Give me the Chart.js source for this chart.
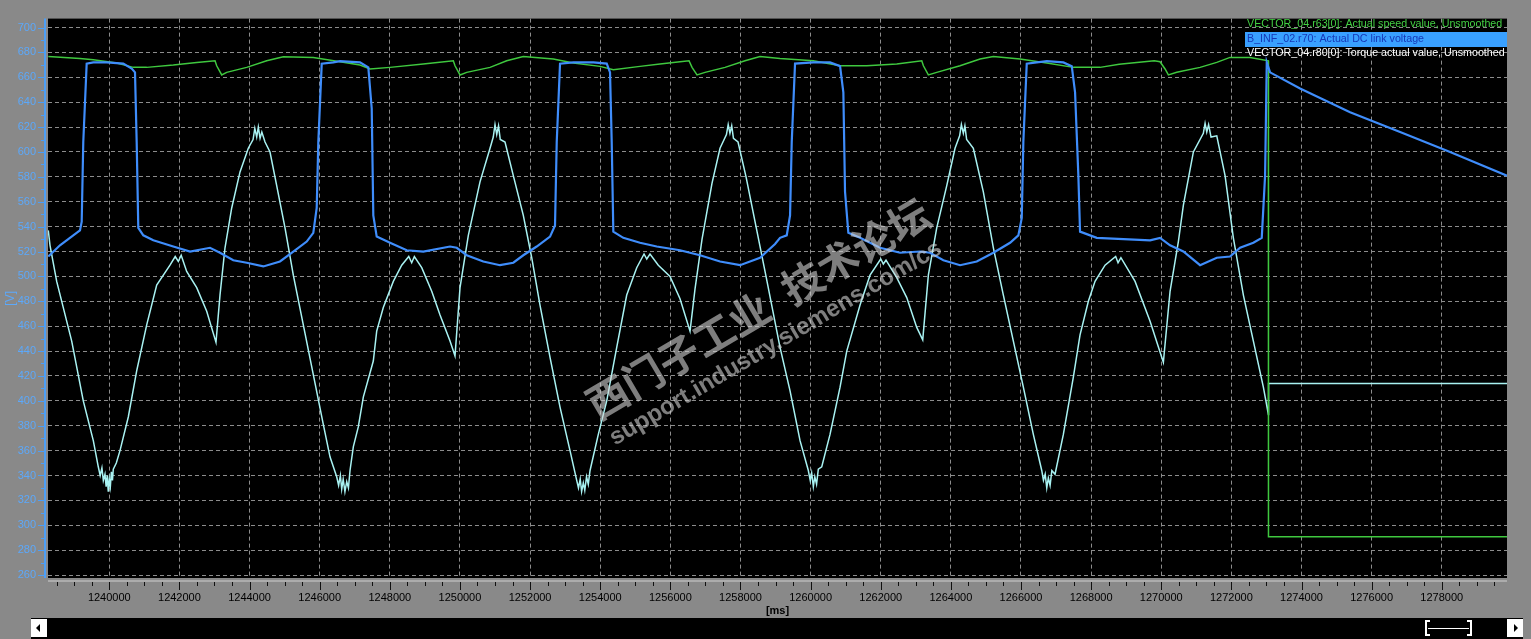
<!DOCTYPE html>
<html>
<head>
<meta charset="utf-8">
<script src="https://cdn.jsdelivr.net/npm/chart.js@4.4.1/dist/chart.umd.min.js"></script>
<style>
  html, body { margin: 0; padding: 0; background: #898989; }
  #wrap { width: 1531px; height: 639px; }
</style>
</head>
<body>
<div id="wrap"><canvas id="traceChart" width="1531" height="639"></canvas></div>
<script>
// trace values (time in ms, value in V)
const seriesLabels = [
  "VECTOR_04.r63[0]: Actual speed value, Unsmoothed",
  "B_INF_02.r70: Actual DC link voltage",
  "VECTOR_04.r80[0]: Torque actual value, Unsmoothed"
];

const speedT = [1238260, 1239164, 1239544, 1240211, 1240684, 1241067, 1241825, 1242493, 1243015, 1243063,
  1243206, 1243348, 1243919, 1244489, 1244962, 1245818, 1246580, 1247150, 1247435, 1248006,
  1248955, 1249811, 1249859, 1250002, 1250193, 1250858, 1251334, 1251807, 1252663, 1253233,
  1253995, 1254374, 1255135, 1255706, 1256276, 1256533, 1256619, 1256761, 1256989, 1257560,
  1258130, 1258558, 1259128, 1260078, 1260840, 1261601, 1262457, 1263170, 1263217, 1263358,
  1263597, 1264262, 1264832, 1265212, 1265973, 1266735, 1267493, 1268255, 1268800, 1269800,
  1269966, 1270109, 1270203, 1270442, 1271107, 1271583, 1271962, 1272533, 1273055, 1273058,
  1279860];
const speedV = [676.8, 675.2, 674.1, 671.5, 668, 668, 669.9, 672, 673.3, 669.3,
  661.9, 664, 668, 673.3, 676.5, 676, 672.5, 669.9, 666.7, 668,
  670.7, 673.3, 669.3, 661.9, 664, 668, 673.3, 676.8, 674.7, 671.5,
  668.8, 666.1, 668.8, 670.7, 672.5, 673.3, 668, 661.9, 664, 668,
  673.3, 676.8, 675.2, 673.3, 669.3, 669.3, 670.7, 673.3, 669.3, 661.9,
  664, 669.3, 674.7, 676.8, 674.7, 671.5, 668, 668, 670.5, 673.3,
  672.5, 666.7, 661.9, 664, 668, 672, 676, 676, 673.3, 290.7,
  290.7];

const dcT = [1238260, 1238594, 1238973, 1239164, 1239213, 1239258, 1239355, 1239544, 1239926, 1240399,
  1240639, 1240733, 1240781, 1240827, 1240970, 1241255, 1241825, 1242302, 1242872, 1243157,
  1243536, 1243919, 1244392, 1244868, 1245248, 1245630, 1245818, 1245915, 1245961, 1246058,
  1246388, 1246580, 1247150, 1247387, 1247484, 1247529, 1247626, 1248006, 1248482, 1248955,
  1249717, 1249908, 1250193, 1250666, 1251143, 1251522, 1251807, 1252189, 1252569, 1252711,
  1252760, 1252854, 1253233, 1253804, 1254186, 1254280, 1254328, 1254374, 1254659, 1255135,
  1255612, 1256276, 1256847, 1257417, 1257988, 1258558, 1258986, 1259128, 1259319, 1259414,
  1259462, 1259556, 1260078, 1260554, 1260840, 1260934, 1260982, 1261076, 1261410, 1261980,
  1262551, 1263121, 1263406, 1263786, 1264262, 1264738, 1265212, 1265688, 1265925, 1266022,
  1266067, 1266164, 1266735, 1267208, 1267448, 1267542, 1267636, 1267684, 1268161, 1269681,
  1269966, 1270251, 1270630, 1271107, 1271583, 1271962, 1272248, 1272627, 1272866, 1272961,
  1273009, 1273103, 1273959, 1275385, 1276811, 1278237, 1279860];
const dcV = [516, 525, 533, 537, 544, 608, 671, 672, 672, 671,
  667, 664, 608, 539, 533, 529, 524, 520, 523, 519,
  513, 511, 508, 512, 520, 528, 535, 555, 608, 671,
  672, 673, 672, 668, 635, 549, 532, 527, 521, 520,
  524, 523, 517, 512, 509, 511, 517, 524, 532, 541,
  608, 671, 672, 672, 671, 664, 608, 536, 531, 527,
  524, 521, 517, 512, 509, 515, 526, 531, 533, 549,
  608, 671, 672, 672, 669, 648, 568, 535, 531, 523,
  519, 520, 519, 513, 509, 512, 519, 527, 533, 547,
  608, 671, 673, 672, 669, 648, 581, 536, 531, 529,
  531, 525, 520, 509, 515, 516, 523, 527, 531, 581,
  672, 664, 651, 632, 616, 600, 581];

const torqueT = [1238260, 1238309, 1238500, 1238928, 1239258, 1239544, 1239686, 1239740, 1239790, 1239830,
  1239877, 1239910, 1239940, 1239971, 1240000, 1240030, 1240060, 1240090, 1240114, 1240200,
  1240305, 1240542, 1240781, 1241067, 1241352, 1241731, 1241880, 1241968, 1242050, 1242207,
  1242493, 1242778, 1243043, 1243157, 1243300, 1243491, 1243728, 1243964, 1244100, 1244150,
  1244204, 1244250, 1244300, 1244350, 1244441, 1244583, 1244774, 1245011, 1245248, 1245533,
  1245818, 1246103, 1246294, 1246485, 1246540, 1246590, 1246628, 1246670, 1246720, 1246771,
  1246820, 1246865, 1246959, 1247101, 1247244, 1247529, 1247626, 1247814, 1248100, 1248339,
  1248540, 1248624, 1248700, 1248910, 1249195, 1249432, 1249717, 1249859, 1250002, 1250239,
  1250572, 1250858, 1250950, 1251000, 1251049, 1251100, 1251150, 1251285, 1251522, 1251807,
  1252047, 1252283, 1252569, 1252854, 1253139, 1253330, 1253380, 1253430, 1253470, 1253518,
  1253560, 1253610, 1253660, 1253710, 1253946, 1254186, 1254471, 1254756, 1255041, 1255250,
  1255327, 1255420, 1255657, 1255991, 1256276, 1256562, 1256704, 1256904, 1257189, 1257417,
  1257600, 1257650, 1257700, 1257750, 1257800, 1257930, 1258159, 1258444, 1258729, 1259128,
  1259414, 1259699, 1259935, 1259990, 1260030, 1260078, 1260120, 1260170, 1260220, 1260318,
  1260554, 1260840, 1261031, 1261410, 1261695, 1262000, 1262074, 1262150, 1262457, 1262742,
  1263027, 1263198, 1263358, 1263597, 1263883, 1264119, 1264250, 1264300, 1264356, 1264400,
  1264450, 1264641, 1264926, 1265212, 1265497, 1265782, 1266067, 1266352, 1266592, 1266640,
  1266690, 1266735, 1266780, 1266830, 1266880, 1266971, 1267208, 1267493, 1267684, 1267921,
  1268112, 1268397, 1268700, 1268768, 1268850, 1269253, 1269681, 1270060, 1270251, 1270488,
  1270630, 1270916, 1271200, 1271250, 1271298, 1271350, 1271420, 1271583, 1271820, 1272056,
  1272342, 1272627, 1272912, 1273055, 1273060, 1279860];
const torqueV = [537, 525, 496, 448, 400, 368, 347, 340, 346, 336,
  341, 331, 340, 327, 337, 331, 343, 336, 345, 350,
  360, 387, 424, 461, 493, 509, 516, 512, 517, 504,
  491, 472, 447, 485, 523, 555, 584, 603, 610, 619,
  612, 620, 611, 616, 608, 600, 573, 539, 501, 461,
  421, 381, 355, 339, 332, 340, 329, 337, 327, 335,
  330, 344, 363, 379, 403, 432, 456, 475, 496, 509,
  516, 511, 516, 507, 488, 469, 448, 436, 491, 533,
  576, 603, 612, 622, 614, 621, 610, 608, 581, 549,
  515, 477, 435, 395, 360, 336, 330, 337, 327, 334,
  328, 339, 333, 344, 373, 400, 443, 485, 507, 518,
  514, 518, 509, 500, 482, 456, 490, 530, 575, 603,
  614, 622, 615, 621, 611, 608, 580, 540, 500, 443,
  408, 368, 344, 336, 342, 331, 339, 333, 345, 347,
  373, 411, 440, 477, 501, 514, 510, 513, 499, 483,
  459, 449, 501, 539, 573, 603, 613, 622, 615, 621,
  610, 603, 568, 523, 485, 448, 411, 373, 344, 336,
  341, 330, 338, 332, 344, 341, 373, 419, 453, 480,
  496, 509, 516, 511, 515, 496, 464, 431, 488, 528,
  557, 600, 615, 623, 616, 622, 612, 613, 581, 531,
  485, 448, 411, 389, 414, 414];

const yTicks = [260, 280, 300, 320, 340, 360, 380, 400, 420, 440, 460, 480,
  500, 520, 540, 560, 580, 600, 620, 640, 660, 680, 700];
const xTicks = [1240000, 1242000, 1244000, 1246000, 1248000, 1250000, 1252000, 1254000, 1256000, 1258000,
  1260000, 1262000, 1264000, 1266000, 1268000, 1270000, 1272000, 1274000, 1276000, 1278000];

function toPoints(ts, vs) {
  return ts.map((t, i) => ({ x: t, y: vs[i] }));
}

const AXIS_BLUE = "#4d9ef5";
const LABEL_BLUE = "#5ca8fa";

const traceDecor = {
  id: "traceDecor",
  beforeDraw(chart) {
    const { ctx, chartArea: a } = chart;
    ctx.save();
    ctx.fillStyle = "#898989";
    ctx.fillRect(0, 0, chart.width, chart.height);
    ctx.fillStyle = "#000";
    ctx.fillRect(a.left, a.top, a.right - a.left, a.bottom - a.top);
    ctx.restore();
  },
  afterDraw(chart) {
    const { ctx, chartArea: a } = chart;
    const xs = chart.scales.x, ys = chart.scales.y;
    ctx.save();

    // y axis line + ticks
    ctx.strokeStyle = AXIS_BLUE;
    ctx.lineWidth = 2;
    ctx.beginPath(); ctx.moveTo(45, a.top); ctx.lineTo(45, a.bottom); ctx.stroke();
    ctx.lineWidth = 1;
    for (let v = yTicks[0]; v <= yTicks[yTicks.length - 1]; v += 10) {
      const y = Math.round(ys.getPixelForValue(v)) + 0.5;
      const len = v % 20 === 0 ? 6 : 3;
      ctx.beginPath(); ctx.moveTo(44 - len, y); ctx.lineTo(44, y); ctx.stroke();
    }

    // x axis line + ticks
    ctx.strokeStyle = "#b9b9b9";
    ctx.lineWidth = 1.5;
    ctx.beginPath(); ctx.moveTo(a.left, 581); ctx.lineTo(a.right, 581); ctx.stroke();
    ctx.strokeStyle = "#111";
    ctx.lineWidth = 1;
    for (let t = xTicks[0] - 1500; t < xs.max; t += 500) {
      if (t < xs.min) continue;
      const x = Math.round(xs.getPixelForValue(t)) + 0.5;
      const len = t % 2000 === 0 ? 8 : 4;
      ctx.beginPath(); ctx.moveTo(x, 582); ctx.lineTo(x, 582 + len); ctx.stroke();
    }

    // legend, top right
    const colors = ["#43cf43", "#1638b8", "#ffffff"];
    ctx.fillStyle = "#39a0ff";
    ctx.fillRect(1245, 32, 262, 15);
    ctx.font = "10.7px 'Liberation Sans'";
    ctx.textBaseline = "middle";
    const rowY = [24, 39, 53.5];
    chart.data.datasets.forEach((ds, i) => {
      ctx.fillStyle = colors[i];
      ctx.fillText(ds.label, 1247, rowY[i]);
    });

    // forum watermark
    ctx.save();
    ctx.translate(598, 421);
    ctx.rotate(-30.5 * Math.PI / 180);
    ctx.fillStyle = "rgba(210,210,210,0.6)";
    ctx.textBaseline = "alphabetic";
    ctx.font = "bold 41px 'Noto Sans CJK SC'";
    ctx.fillText("西门子工业", 0, 0);
    ctx.fillText("技术论坛", 226, 0);
    ctx.font = "bold 24px 'Liberation Sans'";
    ctx.fillText("support.industry.siemens.com/cs", 2, 30);
    ctx.restore();

    // scroll bar
    ctx.fillStyle = "#000";
    ctx.fillRect(31, 618, 1492, 21);
    ctx.fillStyle = "#fff";
    ctx.fillRect(31, 619, 16, 18);
    ctx.fillRect(1507, 619, 16, 18);
    ctx.fillStyle = "#000";
    ctx.beginPath(); ctx.moveTo(36, 628); ctx.lineTo(40, 624); ctx.lineTo(40, 632); ctx.closePath(); ctx.fill();
    ctx.beginPath(); ctx.moveTo(1518, 628); ctx.lineTo(1514, 624); ctx.lineTo(1514, 632); ctx.closePath(); ctx.fill();
    ctx.strokeStyle = "#fff";
    ctx.lineWidth = 2;
    ctx.beginPath();
    ctx.moveTo(1430, 621); ctx.lineTo(1426, 621); ctx.lineTo(1426, 635); ctx.lineTo(1430, 635);
    ctx.moveTo(1467, 621); ctx.lineTo(1471, 621); ctx.lineTo(1471, 635); ctx.lineTo(1467, 635);
    ctx.stroke();
    ctx.lineWidth = 1;
    ctx.beginPath(); ctx.moveTo(1428, 628.5); ctx.lineTo(1469, 628.5); ctx.stroke();

    ctx.restore();
  }
};

Chart.defaults.font.family = "'Liberation Sans', Arial, sans-serif";
Chart.defaults.font.size = 11;

const ctx = document.getElementById("traceChart").getContext("2d");
const traceChart = new Chart(ctx, {
  type: "line",
  data: {
    datasets: [
      {
        label: seriesLabels[0],
        data: toPoints(speedT, speedV),
        borderColor: "#3fc83f",
        borderWidth: 1.5,
        order: 2
      },
      {
        label: seriesLabels[1],
        data: toPoints(dcT, dcV),
        borderColor: "#3f8dfb",
        borderWidth: 2.2,
        order: 1
      },
      {
        label: seriesLabels[2],
        data: toPoints(torqueT, torqueV),
        borderColor: "#a8f2f2",
        borderWidth: 1.5,
        order: 3
      }
    ]
  },
  options: {
    responsive: false,
    animation: false,
    events: [],
    elements: { point: { radius: 0 }, line: { tension: 0 } },
    layout: { padding: { left: 0, right: 24, top: 16, bottom: 0 } },
    plugins: { legend: { display: false }, tooltip: { enabled: false } },
    scales: {
      x: {
        type: "linear",
        min: 1238252,
        max: 1279860,
        afterFit: (scale) => { scale.height = 61; },
        afterBuildTicks: (scale) => { scale.ticks = xTicks.map((v) => ({ value: v })); },
        ticks: {
          autoSkip: false,
          maxRotation: 0,
          padding: 13,
          color: "#000",
          callback: (v) => String(v)
        },
        grid: { color: "#8c8c8c", lineWidth: 1, drawTicks: false },
        border: { display: false, dash: [4, 3] },
        title: {
          display: true,
          text: "[ms]",
          color: "#000",
          font: { size: 11, weight: "bold" },
          padding: { top: 0, bottom: 21 }
        }
      },
      y: {
        type: "linear",
        min: 257.6,
        max: 707.2,
        afterFit: (scale) => { scale.width = 48; },
        afterBuildTicks: (scale) => { scale.ticks = yTicks.map((v) => ({ value: v })); },
        ticks: {
          padding: 12,
          color: LABEL_BLUE,
          callback: (v) => String(v)
        },
        grid: { color: "#8c8c8c", lineWidth: 1, drawTicks: false },
        border: { display: false, dash: [4, 3] },
        title: {
          display: true,
          text: "[V]",
          color: LABEL_BLUE,
          font: { size: 12 },
          padding: { top: 3, bottom: 0 }
        }
      }
    }
  },
  plugins: [traceDecor]
});
</script>
</body>
</html>
